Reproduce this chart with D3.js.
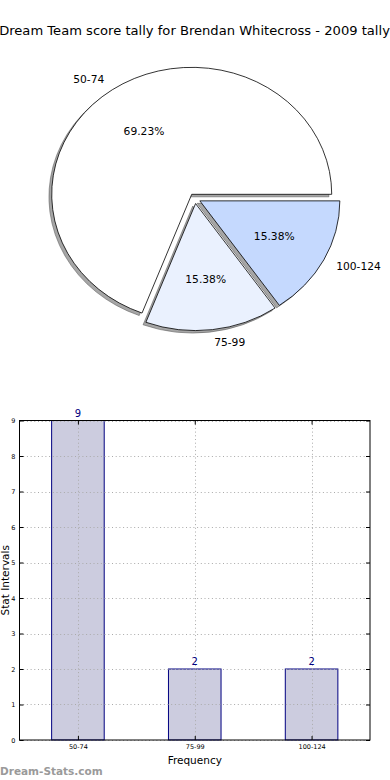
<!DOCTYPE html>
<html>
<head>
<meta charset="utf-8">
<script src="https://cdn.jsdelivr.net/npm/d3@7"></script>
<style>
  body { margin: 0; background: #fff; }
  svg { display: block; font-family: "DejaVu Sans", sans-serif; }
</style>
</head>
<body>
<svg width="390" height="780"></svg>
<script>
var title = "Dream Team score tally for Brendan Whitecross - 2009 tally";
var categories = ["50-74", "75-99", "100-124"];
var counts = [9, 2, 2];
var sliceColors = ["#ffffff", "#eaf1fe", "#c5d9fe"];
var yTicks = [0, 1, 2, 3, 4, 5, 6, 7, 8, 9];

var svg = d3.select("svg");

// title
svg.append("text")
  .attr("x", 194.5).attr("y", 35)
  .attr("text-anchor", "middle")
  .attr("font-size", 13.1)
  .text(title);

// ---- pie (matplotlib style: starts at 3 o'clock, counter clockwise) ----
var pieBox = {cx: 194.9, cy: 198.5, rx: 140, ry: 127};
var explode = 0.04;

var pie = d3.pie().sort(null)
  .startAngle(Math.PI / 2)
  .endAngle(Math.PI / 2 - 2 * Math.PI);
var slices = pie(counts);
var total = d3.sum(counts);

// unit-radius arc, scaled to the ellipse
var arc = d3.arc().innerRadius(0).outerRadius(1);

function offset(d, k) {
  var a = (d.startAngle + d.endAngle) / 2;
  return [pieBox.cx + k * pieBox.rx * Math.sin(a), pieBox.cy - k * pieBox.ry * Math.cos(a)];
}

var pieG = svg.append("g");

// shadows first
slices.forEach(function (d) {
  var c = offset(d, explode);
  pieG.append("path")
    .attr("d", arc(d))
    .attr("transform", "translate(" + (c[0] - 2.8) + "," + (c[1] + 2.5) + ") scale(" + pieBox.rx + "," + pieBox.ry + ")")
    .attr("fill", "#4d4d4d")
    .attr("fill-opacity", 0.5)
    .attr("stroke", "#4d4d4d")
    .attr("stroke-opacity", 0.5)
    .attr("stroke-width", 1)
    .attr("vector-effect", "non-scaling-stroke");
});

slices.forEach(function (d, i) {
  var c = offset(d, explode);
  pieG.append("path")
    .attr("d", arc(d))
    .attr("transform", "translate(" + c[0] + "," + c[1] + ") scale(" + pieBox.rx + "," + pieBox.ry + ")")
    .attr("fill", sliceColors[i])
    .attr("stroke", "#000")
    .attr("stroke-width", 0.8)
    .attr("vector-effect", "non-scaling-stroke");

  var a = (d.startAngle + d.endAngle) / 2;
  // outer label
  var lx = c[0] + 1.1 * pieBox.rx * Math.sin(a);
  var ly = c[1] - 1.1 * pieBox.ry * Math.cos(a);
  pieG.append("text")
    .attr("x", lx).attr("y", ly)
    .attr("dy", "0.35em")
    .attr("text-anchor", Math.sin(a) < 0 ? "end" : "start")
    .attr("font-size", 10.7)
    .text(categories[i]);
  // percentage
  var px = c[0] + 0.6 * pieBox.rx * Math.sin(a);
  var py = c[1] - 0.6 * pieBox.ry * Math.cos(a);
  pieG.append("text")
    .attr("x", px).attr("y", py)
    .attr("dy", "0.35em")
    .attr("text-anchor", "middle")
    .attr("font-size", 10.7)
    .text(d3.format(".2f")(counts[i] / total * 100) + "%");
});

// ---- bar chart ----
var plot = {left: 19.5, right: 370, top: 420.5, bottom: 740};

var x = d3.scaleLinear().domain([-0.5, categories.length - 0.5]).range([plot.left, plot.right]);
var y = d3.scaleLinear().domain([0, 9]).range([plot.bottom, plot.top]);
var barW = x(0.45) - x(0);

var bars = svg.append("g");
bars.selectAll("rect")
  .data(counts)
  .enter().append("rect")
  .attr("x", function (d, i) { return x(i) - barW / 2; })
  .attr("y", function (d) { return y(d); })
  .attr("width", barW)
  .attr("height", function (d) { return y(0) - y(d); })
  .attr("fill", "#ccccdf")
  .attr("stroke", "#000080")
  .attr("stroke-width", 1);

// grid on top of bars
var grid = svg.append("g")
  .attr("stroke", "#aaa")
  .attr("stroke-width", 1)
  .attr("stroke-dasharray", "1,2.7");
grid.selectAll("line.h")
  .data(yTicks)
  .enter().append("line")
  .attr("x1", plot.left).attr("x2", plot.right)
  .attr("y1", function (d) { return Math.round(y(d)) + 0.5; })
  .attr("y2", function (d) { return Math.round(y(d)) + 0.5; });
grid.selectAll("line.v")
  .data(categories)
  .enter().append("line")
  .attr("y1", plot.top).attr("y2", plot.bottom)
  .attr("x1", function (d, i) { return Math.round(x(i)) + 0.5; })
  .attr("x2", function (d, i) { return Math.round(x(i)) + 0.5; });

// value labels
svg.append("g").selectAll("text")
  .data(counts)
  .enter().append("text")
  .attr("x", function (d, i) { return x(i); })
  .attr("y", function (d) { return y(d) - 4; })
  .attr("text-anchor", "middle")
  .attr("font-size", 10)
  .attr("fill", "#000080")
  .text(function (d) { return d; });

// axes (ticks inside, like old matplotlib)
var yAxis = d3.axisLeft(y).tickValues(yTicks).tickSizeInner(-4).tickSizeOuter(0).tickPadding(4);
var yAxisR = d3.axisRight(y).tickValues(yTicks).tickSizeInner(-4).tickSizeOuter(0).tickFormat("");
var xAxis = d3.axisBottom(x).tickValues(d3.range(categories.length))
  .tickFormat(function (i) { return categories[i]; })
  .tickSizeInner(-4).tickSizeOuter(0).tickPadding(4);
var xAxisT = d3.axisTop(x).tickValues(d3.range(categories.length)).tickSizeInner(-4).tickSizeOuter(0).tickFormat("");

function styleAxis(g) {
  g.select(".domain").remove();
  g.selectAll("text").attr("font-size", 6.5).attr("fill", "#000").attr("font-family", "DejaVu Sans, sans-serif");
  g.selectAll("line").attr("stroke", "#000");
}

svg.append("g").attr("transform", "translate(" + plot.left + ",0)").call(yAxis).call(styleAxis);
svg.append("g").attr("transform", "translate(" + plot.right + ",0)").call(yAxisR).call(styleAxis);
svg.append("g").attr("transform", "translate(0," + plot.bottom + ")").call(xAxis).call(styleAxis);
svg.append("g").attr("transform", "translate(0," + plot.top + ")").call(xAxisT).call(styleAxis);

// frame
svg.append("rect")
  .attr("x", plot.left).attr("y", plot.top)
  .attr("width", plot.right - plot.left)
  .attr("height", plot.bottom - plot.top)
  .attr("fill", "none")
  .attr("stroke", "#000")
  .attr("stroke-width", 1);

// axis titles
svg.append("text")
  .attr("x", (plot.left + plot.right) / 2).attr("y", 764)
  .attr("text-anchor", "middle")
  .attr("font-size", 10.5)
  .text("Frequency");
svg.append("text")
  .attr("transform", "translate(9," + (plot.top + plot.bottom) / 2 + ") rotate(-90)")
  .attr("text-anchor", "middle")
  .attr("font-size", 10.5)
  .text("Stat Intervals");

// watermark
svg.append("text")
  .attr("x", 0).attr("y", 775)
  .attr("font-size", 10.5)
  .attr("font-weight", "bold")
  .attr("fill", "#9a9a9a")
  .text("Dream-Stats.com");
</script>
</body>
</html>
